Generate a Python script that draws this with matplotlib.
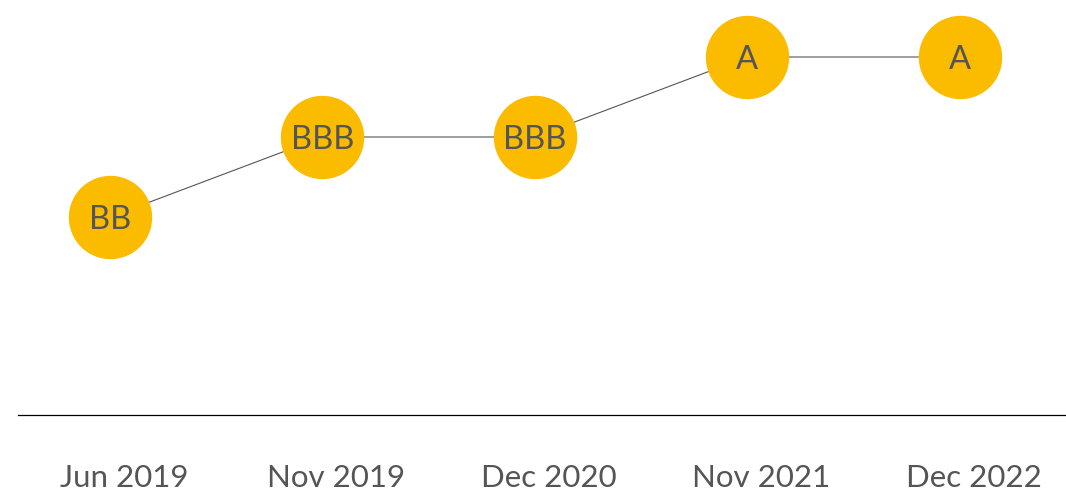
import matplotlib
matplotlib.use("Agg")
import matplotlib.pyplot as plt
import matplotlib.transforms as mtransforms

dates = ["Jun 2019", "Nov 2019", "Dec 2020", "Nov 2021", "Dec 2022"]
ratings = ["BB", "BBB", "BBB", "A", "A"]
scale = ["BB", "BBB", "A"]

plt.rcParams['font.family'] = ['Lato', 'DejaVu Sans']

fig = plt.figure(figsize=(10.66, 4.91), dpi=100)
ax = fig.add_axes([18 / 1066, 76 / 491, 1048 / 1066, 415 / 491])

x = list(range(len(dates)))
y = [scale.index(r) for r in ratings]

ax.plot(x, y, color="#555555", lw=0.8, zorder=1)
ax.plot(x, y, "o", ms=59, color="#FBBC00", mec="#FBBC00", lw=0, zorder=2)
# nudge the rating text down a touch so it sits centred in the circle
down = mtransforms.ScaledTranslation(0, -3 / 100, fig.dpi_scale_trans)
for xi, yi, r in zip(x, y, ratings):
    ax.text(xi, yi, r, ha="center", va="center", fontsize=23.5, color="#555555",
            zorder=3, transform=ax.transData + down)

ax.set_xlim(-0.433, 4.501)
ax.set_ylim(-2.475, 2.7125)

ax.set_xticks(x)
ax.set_xticklabels(dates, fontsize=22.5, color="#555555")
ax.tick_params(axis="x", length=0, pad=35)
# labels sit a little right of the circles
offset = mtransforms.ScaledTranslation(14 / 100, 0, fig.dpi_scale_trans)
for lab in ax.get_xticklabels():
    lab.set_transform(lab.get_transform() + offset)
ax.set_yticks([])

for s in ["top", "right", "left"]:
    ax.spines[s].set_visible(False)
ax.spines["bottom"].set_color("black")
ax.spines["bottom"].set_linewidth(0.9)

fig.savefig("out.png", dpi=100)
